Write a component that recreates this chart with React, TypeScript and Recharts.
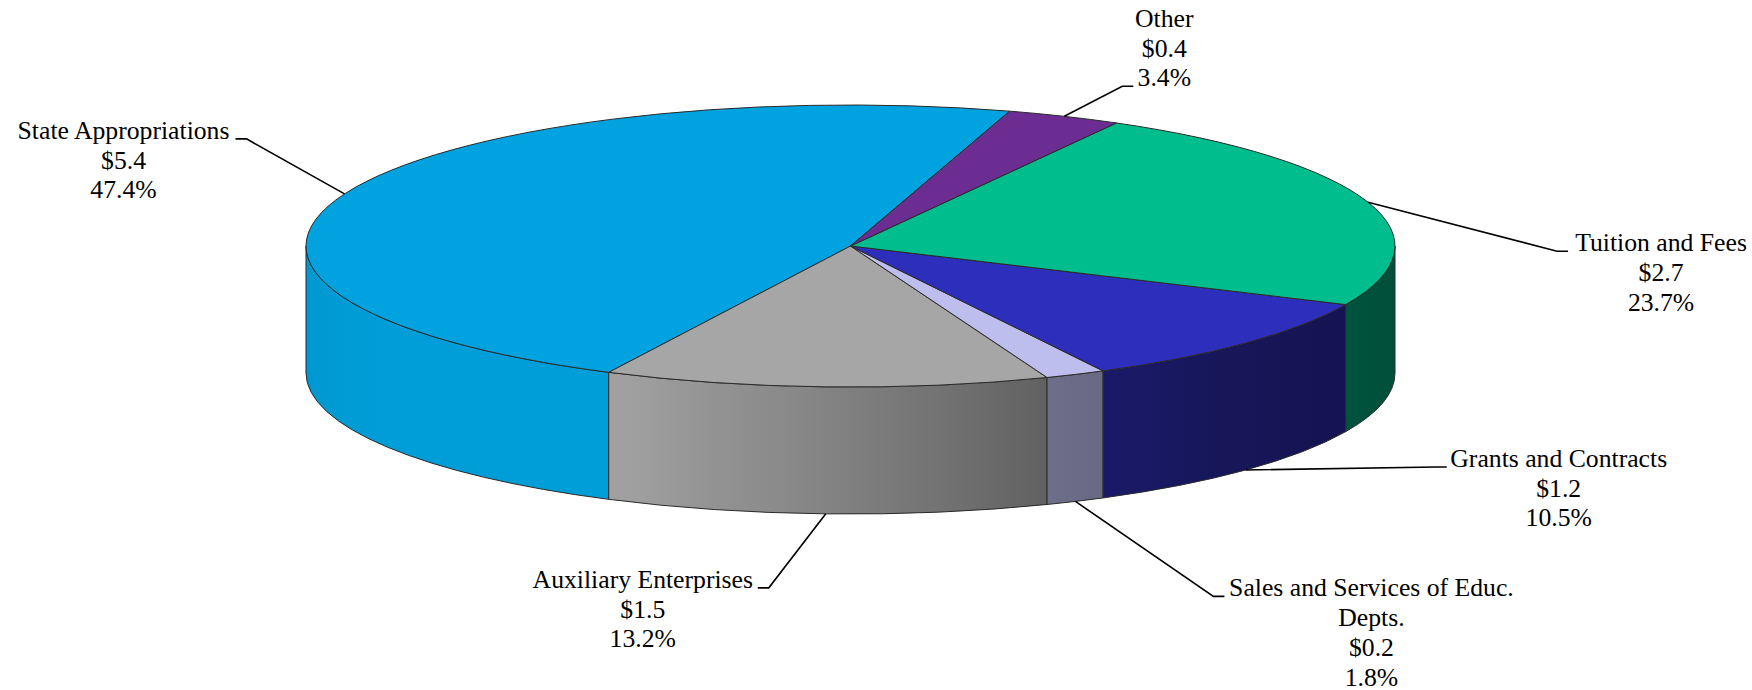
import { PieChart, Pie } from "recharts";

// revenue sources, $ billions and share of total
const CATEGORIES = [
  "State Appropriations",
  "Auxiliary Enterprises",
  "Sales and Services of Educ. Depts.",
  "Grants and Contracts",
  "Tuition and Fees",
  "Other",
];
const AMOUNTS = [5.4, 1.5, 0.2, 1.2, 2.7, 0.4];
const SHARES = [47.4, 13.2, 1.8, 10.5, 23.7, 3.4];
const TOP_COLORS = ["#00A3E0", "#A6A6A6", "#BDBDEE", "#2E2EBC", "#00BD8D", "#6B2D91"];

const data = CATEGORIES.map((name, i) => ({ name, value: SHARES[i], amount: AMOUNTS[i] }));

const TILT = 141 / 544.5;
const DEPTH = 127;
const FONT = '"Liberation Serif", "Times New Roman", serif';
const FONT_SIZE = 25.7;
const LINE_H = 29.7;
const TICK = 11;

// hand placed labels: elbow offset from the rim point, text centre / first baseline offset from elbow
const LABEL_LAYOUT = [
  { ex: -98, ey: -55, tx: -123, ty: 0 },
  { ex: -57, ey: 74, tx: -126, ty: 0 },
  { ex: 138, ey: 95, tx: 158, ty: 0 },
  { ex: 190, ey: -3, tx: 123, ty: 0 },
  { ex: 189, ey: 49, tx: 104, ty: 0 },
  { ex: 58, ey: -30, tx: 42, ty: -59.5 },
];

// side wall shading by facing angle
const LIGHT: [number, number][] = [
  [180, 0.92], [215, 0.97], [245, 0.97], [270, 0.77],
  [292, 0.58], [315, 0.47], [340, 0.43], [360, 0.42],
];

const lightAt = (deg: number) => {
  for (let i = 1; i < LIGHT.length; i++) {
    const [a, fa] = LIGHT[i - 1];
    const [b, fb] = LIGHT[i];
    if (deg <= b) return fa + ((fb - fa) * (deg - a)) / (b - a);
  }
  return LIGHT[LIGHT.length - 1][1];
};

const shade = (hex: string, f: number) => {
  const n = parseInt(hex.slice(1), 16);
  const c = [(n >> 16) & 255, (n >> 8) & 255, n & 255].map((v) => Math.min(255, Math.round(v * f)));
  return `rgb(${c[0]},${c[1]},${c[2]})`;
};

const wrap = (text: string, max = 28) => {
  const out: string[] = [];
  let cur = "";
  for (const w of text.split(" ")) {
    if (cur && (cur + " " + w).length > max) {
      out.push(cur);
      cur = w;
    } else cur = cur ? cur + " " + w : w;
  }
  if (cur) out.push(cur);
  return out;
};

function Slice3D(props: any) {
  const { cx, cy, outerRadius, startAngle, endAngle, index } = props;
  const rx = outerRadius;
  const ry = outerRadius * TILT;
  const color = TOP_COLORS[index];
  const pt = (deg: number, dy = 0) => {
    const r = (deg * Math.PI) / 180;
    return [cx + rx * Math.cos(r), cy - ry * Math.sin(r) + dy];
  };

  const s = Math.min(startAngle, endAngle);
  const e = Math.max(startAngle, endAngle);

  // front walls (180..360 is the visible half)
  const walls: { lo: number; hi: number }[] = [];
  for (const k of [0, 360]) {
    const lo = Math.max(s, 180 + k);
    const hi = Math.min(e, 360 + k);
    if (hi > lo) walls.push({ lo, hi });
  }

  const [sx, sy] = pt(s);
  const [ex2, ey2] = pt(e);
  const large = e - s > 180 ? 1 : 0;
  const top = `M${cx},${cy} L${sx},${sy} A${rx},${ry} 0 ${large} 0 ${ex2},${ey2} Z`;

  // leader line and text
  const mid = (s + e) / 2;
  const m = ((mid % 360) + 360) % 360;
  const [ax, ay] = pt(m, Math.sin((m * Math.PI) / 180) >= 0 ? 0 : DEPTH);
  const lay = LABEL_LAYOUT[index];
  const elx = ax + lay.ex;
  const ely = ay + lay.ey;
  const hx = elx + Math.sign(lay.tx) * TICK;
  const lines = [...wrap(CATEGORIES[index]), `$${AMOUNTS[index].toFixed(1)}`, `${SHARES[index].toFixed(1)}%`];

  return (
    <g>
      {walls.map((w, j) => {
        const [x1, y1] = pt(w.lo);
        const [x2, y2] = pt(w.hi);
        const id = `wall-${index}-${j}`;
        const steps = Math.max(2, Math.ceil((w.hi - w.lo) / 4));
        const stops = Array.from({ length: steps + 1 }, (_, q) => {
          const d = w.lo + ((w.hi - w.lo) * q) / steps;
          const x = pt(d)[0];
          return { off: x2 === x1 ? 0 : (x - x1) / (x2 - x1), col: shade(color, lightAt(((d % 360) + 360) % 360 || 360)) };
        });
        return (
          <g key={id}>
            <defs>
              <linearGradient id={id} gradientUnits="userSpaceOnUse" x1={x1} y1={0} x2={x2} y2={0}>
                {stops.map((st, q) => (
                  <stop key={q} offset={st.off} stopColor={st.col} />
                ))}
              </linearGradient>
            </defs>
            <path
              d={`M${x1},${y1} A${rx},${ry} 0 0 0 ${x2},${y2} L${x2},${y2 + DEPTH} A${rx},${ry} 0 0 1 ${x1},${y1 + DEPTH} Z`}
              fill={`url(#${id})`}
              stroke="#2a2a2a"
              strokeWidth={1}
            />
          </g>
        );
      })}
      <path d={top} fill={color} stroke="#2a2a2a" strokeWidth={1} />
      <polyline
        points={`${ax},${ay} ${elx},${ely} ${hx},${ely}`}
        fill="none"
        stroke="#000"
        strokeWidth={1.6}
      />
      <text
        x={elx + lay.tx}
        y={ely + lay.ty}
        textAnchor="middle"
        fontFamily={FONT}
        fontSize={FONT_SIZE}
        fill="#000"
      >
        {lines.map((ln, q) => (
          <tspan key={q} x={elx + lay.tx} dy={q === 0 ? 0 : LINE_H}>
            {ln}
          </tspan>
        ))}
      </text>
    </g>
  );
}

export default function App() {
  return (
    <div style={{ position: "absolute", left: 0, top: 0, background: "#fff" }}>
      <PieChart width={1752} height={690} margin={{ top: 0, right: 0, bottom: 0, left: 0 }}>
        <Pie
          data={data}
          dataKey="value"
          nameKey="name"
          cx={850.5}
          cy={246}
          outerRadius={544.5}
          startAngle={73}
          endAngle={433}
          fill="none"
          stroke="none"
          label={Slice3D}
          labelLine={false}
          isAnimationActive={false}
        />
      </PieChart>
    </div>
  );
}
